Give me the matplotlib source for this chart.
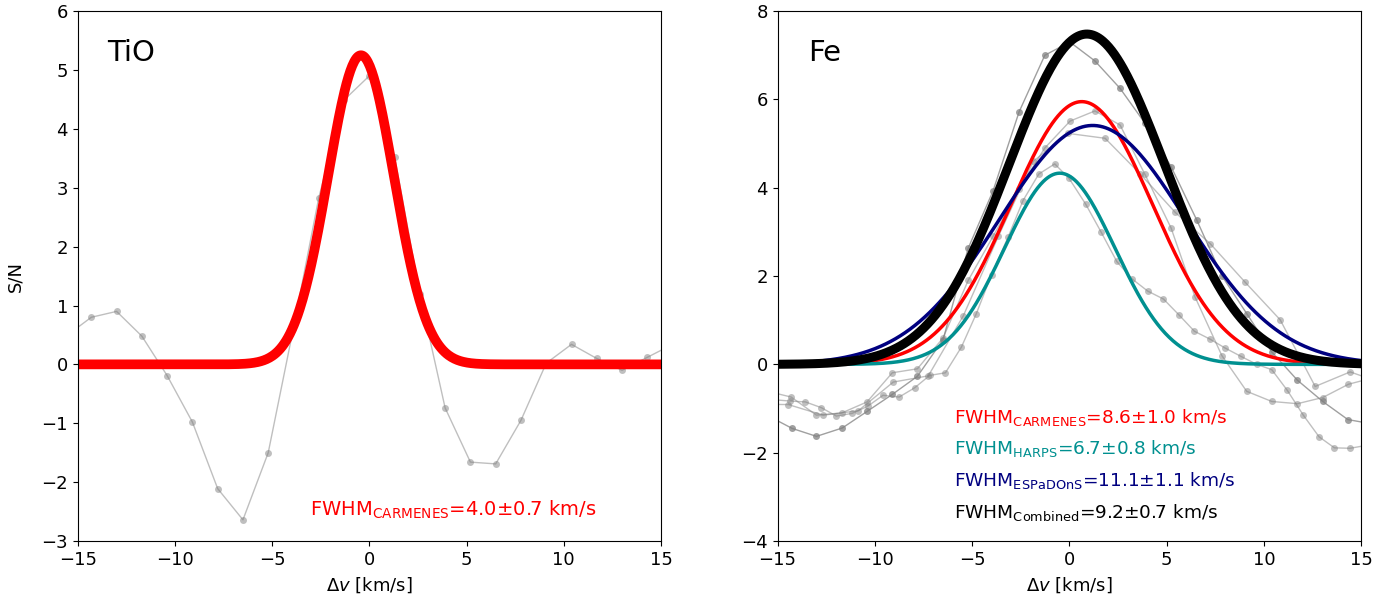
import numpy as np
import matplotlib
matplotlib.use('Agg')
import matplotlib.pyplot as plt

plt.rcParams['font.family'] = ['DejaVu Sans']
plt.rcParams['mathtext.fontset'] = 'dejavusans'
plt.rcParams['mathtext.default'] = 'regular'

# TiO cross-correlation (CARMENES)
tio_v = [-15.6, -14.3, -13.0, -11.7, -10.4, -9.1, -7.8, -6.5, -5.2, -3.9, -2.6, -1.3,
         0.0, 1.3, 2.6, 3.9, 5.2, 6.5, 7.8, 9.1, 10.4, 11.7, 13.0, 14.3, 15.6]
tio_sn = [0.48, 0.80, 0.90, 0.48, -0.19, -0.98, -2.11, -2.64, -1.50, 0.62, 2.83, 4.49,
          4.90, 3.53, 1.19, -0.74, -1.66, -1.69, -0.95, 0.02, 0.34, 0.10, -0.10, 0.12, 0.34]
tio_fit = [5.25, -0.43, 4.0]  # amplitude, centre, FWHM

# Fe cross-correlation, one series per instrument
carm_v = [-15.6, -14.3, -13.0, -11.7, -10.4, -9.1, -7.81, -6.49, -5.2, -3.92, -2.58, -1.26,
          0.04, 1.32, 2.61, 3.89, 5.23, 6.47, 7.84, 9.12, 10.41, 11.73, 13.03, 14.35, 15.65]
carm_sn = [-0.6, -0.74, -1.15, -1.1, -0.85, -0.19, -0.1, 0.6, 1.9, 2.9, 3.97, 4.9,
           5.51, 5.74, 5.42, 4.3, 3.09, 1.52, 0.2, -0.61, -0.84, -0.89, -0.75, -0.45, -0.3]

harps_v = [-15.2, -14.37, -13.57, -12.75, -11.98, -11.17, -10.37, -9.58, -8.75, -7.95, -7.18,
           -6.37, -5.55, -4.78, -4.0, -3.15, -2.38, -1.57, -0.75, -0.01, 0.84, 1.63, 2.44,
           3.21, 4.03, 4.84, 5.66, 6.43, 7.24, 8.01, 8.83, 9.64, 10.41, 11.21, 12.03, 12.84,
           13.63, 14.43, 15.2]
harps_sn = [-0.8, -0.83, -0.85, -0.98, -1.17, -1.11, -0.95, -0.70, -0.74, -0.53, -0.25,
            -0.19, 0.39, 1.15, 2.03, 2.88, 3.71, 4.31, 4.54, 4.21, 3.63, 3.0, 2.33,
            1.94, 1.66, 1.48, 1.11, 0.75, 0.57, 0.37, 0.18, 0.0, -0.12, -0.59, -1.15, -1.64,
            -1.89, -1.90, -1.84]

esp_v = [-16.25, -14.45, -12.65, -10.85, -9.05, -7.25, -5.45, -3.65, -1.85, -0.05, 1.84,
         3.65, 5.45, 7.25, 9.04, 10.84, 12.64, 14.44, 16.24]
esp_sn = [-0.9, -0.91, -1.15, -1.05, -0.40, -0.26, 1.1, 2.9, 4.6, 5.23, 5.12,
          4.31, 3.44, 2.73, 1.86, 1.01, -0.5, -0.17, -0.45]

comb_v = [-15.55, -14.25, -13.0, -11.67, -10.38, -9.10, -7.81, -6.49, -5.2, -3.92, -2.58,
          -1.26, 0.03, 1.32, 2.61, 3.89, 5.23, 6.55, 7.84, 9.12, 10.41, 11.73, 13.03,
          14.32, 15.6]
comb_sn = [-1.15, -1.45, -1.63, -1.44, -1.06, -0.68, -0.27, 0.56, 2.63, 3.93, 5.72,
           7.0, 7.3, 6.87, 6.25, 5.46, 4.48, 3.27, 2.01, 1.15, 0.28, -0.36, -0.84,
           -1.25, -1.35]

# gaussian fits: amplitude, centre, FWHM
fe_names = ['CARMENES', 'HARPS', 'ESPaDOnS', 'Combined']
fe_fits = [[5.95, 0.64, 8.6], [4.33, -0.49, 6.7], [5.41, 1.2, 11.3], [7.48, 0.9, 9.4]]
fe_labels = ['8.6\u00b11.0', '6.7\u00b10.8', '11.1\u00b11.1', '9.2\u00b10.7']
fe_colors = ['red', '#009090', 'navy', 'black']
fe_lw = [2.5, 2.5, 2.5, 6.5]


def gauss(x, amp, mu, fwhm):
    sig = fwhm / (2 * np.sqrt(2 * np.log(2)))
    return amp * np.exp(-(x - mu) ** 2 / (2 * sig ** 2))


fig = plt.figure(figsize=(14, 6.07), dpi=100)
ax1 = fig.add_axes([0.0555, 0.1087, 0.4166, 0.873])
ax2 = fig.add_axes([0.5554, 0.1087, 0.4168, 0.873])

xx = np.linspace(-15, 15, 600)

# left panel: TiO
ax1.plot(tio_v, tio_sn, '-o', color='gray', alpha=0.5, lw=1, ms=5, mec='none')
ax1.plot(xx, gauss(xx, *tio_fit), color='red', lw=7)
ax1.set_xlim(-15, 15)
ax1.set_ylim(-3, 6)
ax1.set_yticks(range(-3, 7))
ax1.set_ylabel('S/N', fontsize=13, labelpad=12)
ax1.text(0.05, 0.905, 'TiO', transform=ax1.transAxes, fontsize=21)
ax1.text(-3.05, -2.57, r'FWHM$_{\mathrm{CARMENES}}$=4.0' + '\u00b1' + '0.7 km/s',
         color='red', fontsize=14, va='baseline')

# right panel: Fe
for v, sn, a in [(carm_v, carm_sn, 0.5), (harps_v, harps_sn, 0.5),
                 (esp_v, esp_sn, 0.5), (comb_v, comb_sn, 0.75)]:
    ax2.plot(v, sn, '-o', color='gray', alpha=a, lw=1, ms=5, mec='none')

for fit, c, lw in zip(fe_fits, fe_colors, fe_lw):
    ax2.plot(xx, gauss(xx, *fit), color=c, lw=lw)

ax2.set_xlim(-15, 15)
ax2.set_ylim(-4, 8)
ax2.set_yticks(range(-4, 9, 2))
ax2.text(0.052, 0.905, 'Fe', transform=ax2.transAxes, fontsize=21)
for i, (name, lab, c) in enumerate(zip(fe_names, fe_labels, fe_colors)):
    ax2.text(-5.93, -1.32 - 0.72 * i, r'FWHM$_{\mathrm{%s}}$=' % name + lab + ' km/s',
             color=c, fontsize=13.3, va='baseline')

for ax in (ax1, ax2):
    ax.set_xticks(range(-15, 16, 5))
    ax.set_xlabel(r'$\Delta \mathit{v}$ [km/s]', fontsize=13, labelpad=5)
    ax.tick_params(labelsize=13)

fig.savefig('out.png', dpi=100)
